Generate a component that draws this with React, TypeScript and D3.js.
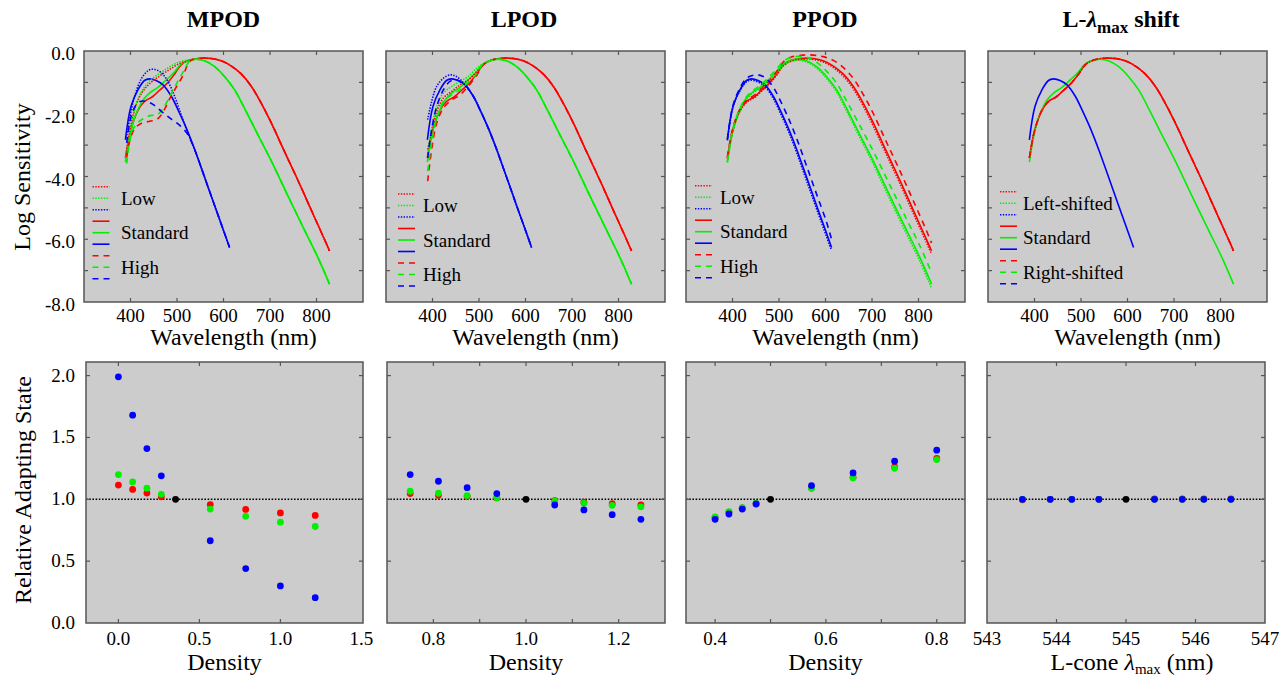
import React from 'react';
import * as d3 from 'd3';

type P = [number, number];

// ---------- Standard cone fundamentals (log sensitivity vs wavelength) ----------
const L_STANDARD: P[] = [[389,-3.41],[398,-2.67],[405,-2.30],[416,-1.89],[430,-1.61],[448,-1.45],[462,-1.26],[480,-1.01],[495,-0.73],[509,-0.44],[527,-0.29],[552,-0.23],[574,-0.24],[595,-0.31],[617,-0.48],[638,-0.73],[660,-1.13],[681,-1.66],[703,-2.30],[731,-3.20],[760,-4.12],[789,-5.08],[817,-6.00],[828,-6.37]];
const M_STANDARD: P[] = [[389,-3.54],[398,-2.72],[405,-2.30],[416,-1.87],[427,-1.56],[441,-1.34],[459,-1.16],[477,-0.92],[495,-0.66],[509,-0.41],[523,-0.31],[541,-0.26],[559,-0.31],[581,-0.50],[602,-0.81],[624,-1.24],[645,-1.82],[674,-2.67],[703,-3.51],[738,-4.60],[774,-5.70],[803,-6.58],[828,-7.43]];
const S_STANDARD: P[] = [[389,-2.83],[401,-1.77],[416,-1.24],[430,-0.94],[441,-0.89],[455,-0.94],[470,-1.08],[488,-1.45],[502,-1.87],[520,-2.46],[538,-3.14],[559,-4.01],[581,-4.93],[602,-5.80],[613,-6.26]];

// ---------- MPOD variants (short-wavelength part; joins the standard beyond) ----------
const MPOD_L_LOW: P[] = [[391.8,-3.30],[399,-2.51],[409.7,-1.82],[424,-1.34],[441.9,-1.03],[463.4,-0.79],[485,-0.58],[506.5,-0.39],[528,-0.29]];
const MPOD_M_LOW: P[] = [[391.8,-3.51],[399,-2.61],[409.7,-1.82],[424,-1.29],[441.9,-0.94],[463.4,-0.71],[485,-0.50],[506.5,-0.34],[524.4,-0.29]];
const MPOD_S_LOW: P[] = [[391.8,-2.77],[399,-2.08],[409.7,-1.40],[424,-0.87],[438.4,-0.62],[449.1,-0.58],[463.4,-0.66],[477.8,-0.90],[492.1,-1.34],[506.5,-1.93],[519.4,-2.46],[530,-2.86]];
const MPOD_L_HIGH: P[] = [[391.8,-3.38],[399,-2.83],[409.7,-2.46],[424,-2.30],[441.9,-2.24],[457.7,-2.17],[470.6,-1.93],[485,-1.50],[499.3,-1.13],[513.6,-0.76],[524.4,-0.39],[531.5,-0.29]];
const MPOD_M_HIGH: P[] = [[391.8,-3.59],[399,-2.83],[409.7,-2.38],[424,-2.19],[441.9,-2.06],[457.7,-2.03],[470.6,-1.82],[485,-1.43],[499.3,-1.03],[513.6,-0.66],[524.4,-0.37],[531.5,-0.29]];
const MPOD_S_HIGH: P[] = [[391.8,-2.93],[400.4,-2.14],[409.7,-1.77],[420.4,-1.61],[434.8,-1.61],[449.1,-1.71],[467,-1.93],[485,-2.14],[506.5,-2.38],[520.8,-2.61],[530,-2.86]];

// ---------- LPOD variants ----------
const LPOD_L_LOW: P[] = [[389.6,-3.14],[398.2,-2.61],[409,-1.93],[423.3,-1.50],[441.2,-1.29],[459.1,-1.08],[477.1,-0.92],[495,-0.66]];
const LPOD_M_LOW: P[] = [[389.6,-3.35],[398.2,-2.45],[409,-1.77],[423.3,-1.34],[441.2,-1.13],[459.1,-0.97],[477.1,-0.81],[495,-0.55]];
const LPOD_S_LOW: P[] = [[389.6,-2.19],[398.2,-1.61],[409,-1.13],[423.3,-0.87],[437.6,-0.76],[448.4,-0.79],[459.1,-0.90]];
const LPOD_L_HIGH: P[] = [[389.6,-4.15],[398.2,-3.14],[409,-2.30],[423.3,-1.82],[441.2,-1.56],[459.1,-1.40],[477.1,-1.12],[495,-0.78]];
const LPOD_M_HIGH: P[] = [[389.6,-3.83],[398.2,-2.93],[409,-2.14],[423.3,-1.61],[441.2,-1.40],[459.1,-1.24],[477.1,-1.00],[495,-0.72]];
const LPOD_S_HIGH: P[] = [[389.6,-3.41],[398.2,-2.51],[409,-1.77],[423.3,-1.24],[437.6,-0.97],[451.9,-0.92]];

// ---------- PPOD variants (full range) ----------
const PPOD_L_LOW: P[] = [[389,-3.43],[398,-2.70],[405,-2.33],[416,-1.92],[430,-1.64],[448,-1.48],[462,-1.29],[480,-1.04],[495,-0.77],[509,-0.48],[527,-0.32],[552,-0.26],[574,-0.27],[595,-0.35],[617,-0.53],[638,-0.80],[660,-1.21],[681,-1.75],[703,-2.40],[731,-3.30],[760,-4.22],[789,-5.18],[817,-6.10],[828,-6.47]];
const PPOD_L_HIGH: P[] = [[389,-3.38],[398,-2.62],[405,-2.25],[416,-1.85],[430,-1.57],[448,-1.40],[462,-1.20],[480,-0.94],[495,-0.65],[509,-0.35],[527,-0.19],[552,-0.13],[574,-0.13],[595,-0.18],[617,-0.30],[638,-0.52],[660,-0.88],[681,-1.38],[703,-2.00],[731,-2.90],[760,-3.82],[789,-4.78],[817,-5.72],[828,-6.12]];
const PPOD_M_LOW: P[] = [[389,-3.56],[398,-2.74],[405,-2.33],[416,-1.90],[427,-1.59],[441,-1.37],[459,-1.19],[477,-0.95],[495,-0.70],[509,-0.45],[523,-0.34],[541,-0.29],[559,-0.35],[581,-0.55],[602,-0.87],[624,-1.31],[645,-1.90],[674,-2.76],[703,-3.61],[738,-4.71],[774,-5.82],[803,-6.70],[828,-7.56]];
const PPOD_M_HIGH: P[] = [[389,-3.50],[398,-2.68],[405,-2.26],[416,-1.83],[427,-1.52],[441,-1.29],[459,-1.10],[477,-0.85],[495,-0.58],[509,-0.33],[523,-0.22],[541,-0.17],[559,-0.20],[581,-0.36],[602,-0.64],[624,-1.03],[645,-1.58],[674,-2.38],[703,-3.20],[738,-4.26],[774,-5.35],[803,-6.21],[828,-7.06]];
const PPOD_S_LOW: P[] = [[389,-2.85],[401,-1.80],[416,-1.27],[430,-0.98],[441,-0.93],[455,-0.99],[470,-1.14],[488,-1.52],[502,-1.95],[520,-2.55],[538,-3.24],[559,-4.12],[581,-5.04],[602,-5.91],[613,-6.36]];
const PPOD_S_HIGH: P[] = [[389,-2.80],[401,-1.74],[416,-1.18],[430,-0.87],[441,-0.79],[455,-0.76],[470,-0.85],[488,-1.16],[502,-1.56],[520,-2.13],[538,-2.79],[559,-3.65],[581,-4.57],[602,-5.44],[613,-6.00]];

// ---------- Adapting-state data ----------
const MPOD_X = [0, 0.088, 0.176, 0.265, 0.567, 0.786, 1.0, 1.215];
const MPOD_STD = 0.353;
const MPOD_RED = [1.115, 1.08, 1.05, 1.02, 0.957, 0.918, 0.89, 0.87];
const MPOD_GREEN = [1.20, 1.14, 1.09, 1.04, 0.921, 0.862, 0.815, 0.78];
const MPOD_BLUE = [1.99, 1.68, 1.41, 1.19, 0.665, 0.44, 0.30, 0.205];

const LPOD_X = [0.75, 0.811, 0.873, 0.937, 1.062, 1.125, 1.186, 1.248];
const LPOD_STD = 1.0;
const LPOD_RED = [1.046, 1.032, 1.024, 1.011, 0.989, 0.976, 0.965, 0.954];
const LPOD_GREEN = [1.065, 1.049, 1.030, 1.013, 0.986, 0.968, 0.951, 0.938];
const LPOD_BLUE = [1.20, 1.146, 1.094, 1.046, 0.954, 0.914, 0.876, 0.838];

const PPOD_X = [0.4, 0.425, 0.449, 0.474, 0.574, 0.649, 0.724, 0.8];
const PPOD_STD = 0.5;
const PPOD_RED = [0.854, 0.897, 0.930, 0.965, 1.092, 1.178, 1.262, 1.33];
const PPOD_GREEN = [0.857, 0.900, 0.932, 0.968, 1.089, 1.172, 1.251, 1.321];
const PPOD_BLUE = [0.838, 0.881, 0.921, 0.962, 1.111, 1.213, 1.308, 1.397];

const LSHIFT_X = [543.51, 543.91, 544.22, 544.61, 545.41, 545.81, 546.12, 546.51];
const LSHIFT_STD = 545.0;
const LSHIFT_RED = [0.996, 1.0, 1.0, 1.0, 1.003, 1.003, 1.003, 1.003];
const LSHIFT_GREEN = [1.0, 1.0, 1.0, 1.0, 1.0, 1.0, 1.0, 1.0];
const LSHIFT_BLUE = [1.0, 1.0, 1.0, 1.0, 1.0, 1.0, 1.0, 1.0];

const WL_TICKS = [400, 500, 600, 700, 800];
const LOG_TICKS = [-1, -2, -3, -4, -5, -6, -7];
const LOG_LABELS = [0, -2, -4, -6, -8];
const STATE_TICKS = [0.5, 1.0, 1.5, 2.0];
const STATE_LABELS = [0, 0.5, 1.0, 1.5, 2.0];

// ---------- styling ----------
const RED = '#ff0000', GREEN = '#00f000', BLUE = '#0000ff';
const BG = '#cccccc', FRAME = '#555555';
const FONT = '"Liberation Serif", "Times New Roman", Times, serif';
const STYLE_DASH: Record<string, string | undefined> = { dotted: '1.4,1.4', solid: undefined, dashed: '6,5' };

const join = (variant: P[], std: P[]): P[] => {
  const last = variant[variant.length - 1][0];
  return [...variant, ...std.filter(p => p[0] > last)];
};

type Curve = { color: string; style: string; pts: P[] };

const stdCurves = (): Curve[] => [
  { color: RED, style: 'solid', pts: L_STANDARD },
  { color: GREEN, style: 'solid', pts: M_STANDARD },
  { color: BLUE, style: 'solid', pts: S_STANDARD },
];

const panelsTop = [
  {
    left: 84, title: 'MPOD', titleX: 223.5, legend: { x: 92.5, lx: 121, y: 186.7, labels: ['Low', 'Standard', 'High'] },
    curves: [
      ...stdCurves(),
      { color: RED, style: 'dotted', pts: join(MPOD_L_LOW, L_STANDARD) },
      { color: GREEN, style: 'dotted', pts: join(MPOD_M_LOW, M_STANDARD) },
      { color: BLUE, style: 'dotted', pts: join(MPOD_S_LOW, S_STANDARD) },
      { color: RED, style: 'dashed', pts: join(MPOD_L_HIGH, L_STANDARD) },
      { color: GREEN, style: 'dashed', pts: join(MPOD_M_HIGH, M_STANDARD) },
      { color: BLUE, style: 'dashed', pts: join(MPOD_S_HIGH, S_STANDARD) },
    ] as Curve[],
  },
  {
    left: 386, title: 'LPOD', titleX: 524, legend: { x: 398, lx: 423, y: 194, labels: ['Low', 'Standard', 'High'] },
    curves: [
      ...stdCurves(),
      { color: RED, style: 'dotted', pts: join(LPOD_L_LOW, L_STANDARD) },
      { color: GREEN, style: 'dotted', pts: join(LPOD_M_LOW, M_STANDARD) },
      { color: BLUE, style: 'dotted', pts: join(LPOD_S_LOW, S_STANDARD) },
      { color: RED, style: 'dashed', pts: join(LPOD_L_HIGH, L_STANDARD) },
      { color: GREEN, style: 'dashed', pts: join(LPOD_M_HIGH, M_STANDARD) },
      { color: BLUE, style: 'dashed', pts: join(LPOD_S_HIGH, S_STANDARD) },
    ] as Curve[],
  },
  {
    left: 686, title: 'PPOD', titleX: 825, legend: { x: 695, lx: 720, y: 185.7, labels: ['Low', 'Standard', 'High'] },
    curves: [
      ...stdCurves(),
      { color: RED, style: 'dotted', pts: PPOD_L_LOW },
      { color: GREEN, style: 'dotted', pts: PPOD_M_LOW },
      { color: BLUE, style: 'dotted', pts: PPOD_S_LOW },
      { color: RED, style: 'dashed', pts: PPOD_L_HIGH },
      { color: GREEN, style: 'dashed', pts: PPOD_M_HIGH },
      { color: BLUE, style: 'dashed', pts: PPOD_S_HIGH },
    ] as Curve[],
  },
  {
    left: 988, title: 'LSHIFT', titleX: 1121, legend: { x: 1000, lx: 1023, y: 191.7, labels: ['Left-shifted', 'Standard', 'Right-shifted'] },
    curves: [
      { color: RED, style: 'dashed', pts: L_STANDARD },
      { color: RED, style: 'dotted', pts: L_STANDARD },
      ...stdCurves(),
    ] as Curve[],
  },
];

const panelsBottom = [
  { left: 86, right: 363, domain: [-0.2, 1.51], ticks: [0, 0.5, 1.0], labels: [0, 0.5, 1.0, 1.5], fmt: '.1f',
    xs: MPOD_X, std: MPOD_STD, red: MPOD_RED, green: MPOD_GREEN, blue: MPOD_BLUE, xlabel: 'Density' },
  { left: 387, right: 665, domain: [0.7, 1.3], ticks: [0.8, 0.9, 1.0, 1.1, 1.2], labels: [0.8, 1.0, 1.2], fmt: '.1f',
    xs: LPOD_X, std: LPOD_STD, red: LPOD_RED, green: LPOD_GREEN, blue: LPOD_BLUE, xlabel: 'Density' },
  { left: 686, right: 965, domain: [0.3475, 0.851], ticks: [0.4, 0.5, 0.6, 0.7, 0.8], labels: [0.4, 0.6, 0.8], fmt: '.1f',
    xs: PPOD_X, std: PPOD_STD, red: PPOD_RED, green: PPOD_GREEN, blue: PPOD_BLUE, xlabel: 'Density' },
  { left: 987, right: 1265, domain: [543, 547], ticks: [544, 545, 546], labels: [543, 544, 545, 546, 547], fmt: 'd',
    xs: LSHIFT_X, std: LSHIFT_STD, red: LSHIFT_RED, green: LSHIFT_GREEN, blue: LSHIFT_BLUE, xlabel: 'LCONE' },
];

const TOP_Y0 = 51, TOP_Y1 = 302, PW = 279;
const BOT_Y0 = 362, BOT_Y1 = 623;
const TL = 4;

function TopPanel({ p, idx }: { p: typeof panelsTop[number]; idx: number }) {
  const x = d3.scaleLinear().domain([300, 900]).range([p.left, p.left + PW]);
  const y = d3.scaleLinear().domain([-8, 0]).range([TOP_Y1, TOP_Y0]);
  const line = d3.line<P>().x(d => x(d[0])).y(d => y(d[1])).curve(d3.curveCatmullRom.alpha(0.5));
  const order = ['solid', 'dotted', 'dashed'];
  const sorted = [...p.curves].sort((a, b) => order.indexOf(a.style) - order.indexOf(b.style));
  const right = p.left + PW;
  const legendRows: { color: string; style: string }[] = [];
  ['dotted', 'solid', 'dashed'].forEach(s => [RED, GREEN, BLUE].forEach(c => legendRows.push({ color: c, style: s })));
  const step = 11.5;
  const cx = p.left + PW / 2;
  return (
    <g>
      <rect x={p.left} y={TOP_Y0} width={PW} height={TOP_Y1 - TOP_Y0} fill={BG} />
      {p.title === 'LSHIFT' ? (
        <text x={p.titleX} y={27} textAnchor="middle" fontFamily={FONT} fontSize={24} fontWeight="bold">
          <tspan>L-</tspan><tspan fontStyle="italic">λ</tspan>
          <tspan fontSize={17} dy={6}>max</tspan><tspan dy={-6}> shift</tspan>
        </text>
      ) : (
        <text x={p.titleX} y={27} textAnchor="middle" fontFamily={FONT} fontSize={24} fontWeight="bold">{p.title}</text>
      )}
      {sorted.map((c, i) => (
        <path key={i} d={line(c.pts) || ''} fill="none" stroke={c.color} strokeWidth={1.6}
          strokeDasharray={STYLE_DASH[c.style]} />
      ))}
      {legendRows.map((r, i) => (
        <line key={i} x1={p.legend.x} x2={p.legend.x + 17} y1={p.legend.y + i * step} y2={p.legend.y + i * step}
          stroke={r.color} strokeWidth={1.6} strokeDasharray={STYLE_DASH[r.style]} />
      ))}
      {p.legend.labels.map((t, i) => (
        <text key={t} x={p.legend.lx} y={p.legend.y + (1 + i * 3) * step + 6.5} fontFamily={FONT} fontSize={19}>{t}</text>
      ))}
      {WL_TICKS.map(t => (
        <g key={t}>
          <line x1={x(t)} x2={x(t)} y1={TOP_Y1} y2={TOP_Y1 - TL} stroke={FRAME} strokeWidth={1.2} />
          <line x1={x(t)} x2={x(t)} y1={TOP_Y0} y2={TOP_Y0 + TL} stroke={FRAME} strokeWidth={1.2} />
          <text x={x(t)} y={321.5} textAnchor="middle" fontFamily={FONT} fontSize={19}>{t}</text>
        </g>
      ))}
      {LOG_TICKS.map(t => (
        <g key={t}>
          <line x1={p.left} x2={p.left + TL} y1={y(t)} y2={y(t)} stroke={FRAME} strokeWidth={1.2} />
          <line x1={right} x2={right - TL} y1={y(t)} y2={y(t)} stroke={FRAME} strokeWidth={1.2} />
        </g>
      ))}
      {idx === 0 && LOG_LABELS.map(t => (
        <text key={t} x={75} y={y(t) + 9} textAnchor="end" fontFamily={FONT} fontSize={19}>{d3.format('.1f')(t).replace('−', '-')}</text>
      ))}
      <text x={cx + 10} y={345} textAnchor="middle" fontFamily={FONT} fontSize={24}>Wavelength (nm)</text>
      <rect x={p.left} y={TOP_Y0} width={PW} height={TOP_Y1 - TOP_Y0} fill="none" stroke={FRAME} strokeWidth={1.5} />
    </g>
  );
}

function BottomPanel({ p, idx }: { p: typeof panelsBottom[number]; idx: number }) {
  const x = d3.scaleLinear().domain(p.domain).range([p.left, p.right]);
  const y = d3.scaleLinear().domain([0, 2.11]).range([BOT_Y1, BOT_Y0]);
  const fmt = d3.format(p.fmt);
  const cx = (p.left + p.right) / 2;
  const series = [
    { color: RED, vals: p.red },
    { color: GREEN, vals: p.green },
    { color: BLUE, vals: p.blue },
  ];
  return (
    <g>
      <rect x={p.left} y={BOT_Y0} width={p.right - p.left} height={BOT_Y1 - BOT_Y0} fill={BG} />
      <line x1={p.left} x2={p.right} y1={y(1)} y2={y(1)} stroke="#000" strokeWidth={1.4} strokeDasharray="1.6,1.6" />
      {series.map(s => s.vals.map((v, i) => (
        <circle key={s.color + i} cx={x(p.xs[i])} cy={y(v)} r={3.4} fill={s.color} />
      )))}
      <circle cx={x(p.std)} cy={y(1)} r={3.4} fill="#000" />
      {p.ticks.map(t => (
        <g key={t}>
          <line x1={x(t)} x2={x(t)} y1={BOT_Y1} y2={BOT_Y1 - TL} stroke={FRAME} strokeWidth={1.2} />
          <line x1={x(t)} x2={x(t)} y1={BOT_Y0} y2={BOT_Y0 + TL} stroke={FRAME} strokeWidth={1.2} />
        </g>
      ))}
      {p.labels.map(t => (
        <text key={t} x={x(t)} y={645} textAnchor="middle" fontFamily={FONT} fontSize={19}>{fmt(t)}</text>
      ))}
      {STATE_TICKS.map(t => (
        <g key={t}>
          <line x1={p.left} x2={p.left + TL} y1={y(t)} y2={y(t)} stroke={FRAME} strokeWidth={1.2} />
          <line x1={p.right} x2={p.right - TL} y1={y(t)} y2={y(t)} stroke={FRAME} strokeWidth={1.2} />
        </g>
      ))}
      {idx === 0 && STATE_LABELS.map(t => (
        <text key={t} x={75} y={y(t) + 6} textAnchor="end" fontFamily={FONT} fontSize={19}>{d3.format('.1f')(t)}</text>
      ))}
      {p.xlabel === 'LCONE' ? (
        <text x={cx + 6} y={670} textAnchor="middle" fontFamily={FONT} fontSize={24}>
          <tspan>L-cone </tspan><tspan fontStyle="italic">λ</tspan>
          <tspan fontSize={15} dy={4}>max</tspan><tspan dy={-4}> (nm)</tspan>
        </text>
      ) : (
        <text x={cx} y={670} textAnchor="middle" fontFamily={FONT} fontSize={24}>{p.xlabel}</text>
      )}
      <rect x={p.left} y={BOT_Y0} width={p.right - p.left} height={BOT_Y1 - BOT_Y0} fill="none" stroke={FRAME} strokeWidth={1.5} />
    </g>
  );
}

export default function App() {
  return (
    <svg width={1283} height={679} style={{ position: 'absolute', left: 0, top: 0, background: '#fff' }}>
      <rect x={0} y={0} width={1283} height={679} fill="#fff" />
      {panelsTop.map((p, i) => <TopPanel key={i} p={p} idx={i} />)}
      {panelsBottom.map((p, i) => <BottomPanel key={i} p={p} idx={i} />)}
      <text transform="translate(30,177) rotate(-90)" textAnchor="middle" fontFamily={FONT} fontSize={24}>Log Sensitivity</text>
      <text transform="translate(31,490) rotate(-90)" textAnchor="middle" fontFamily={FONT} fontSize={24}>Relative Adapting State</text>
    </svg>
  );
}
